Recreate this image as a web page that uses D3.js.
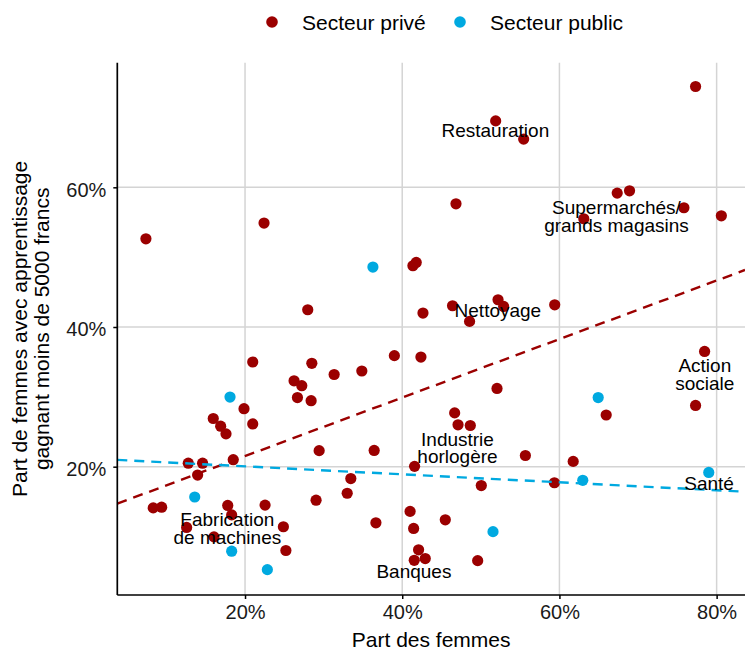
<!DOCTYPE html>
<html>
<head>
<meta charset="utf-8">
<script src="https://cdn.jsdelivr.net/npm/d3@7"></script>
<style>
  html, body { margin: 0; padding: 0; background: #fff; }
  svg { display: block; font-family: "Liberation Sans", Arial, sans-serif; }
</style>
</head>
<body>
<svg id="chart" width="745" height="652"></svg>
<script>
// Share of women in each branch (x, %) and share of apprenticeship-trained
// women earning less than 5000 francs (y, %), private sector
const priveX = [7.39, 22.42, 27.98, 41.36, 41.78, 42.64, 77.32, 51.89, 55.45, 46.84,
  67.35, 68.92, 75.84, 80.6, 63.1, 46.4, 52.19, 52.9, 48.57, 59.4,
  20.98, 28.5, 31.34, 34.86, 39.0, 42.38, 26.24, 27.22, 26.67, 28.41,
  19.87, 20.98, 15.96, 16.9, 17.58, 29.43, 36.43, 41.57, 12.78, 14.6,
  18.5, 13.97, 8.32, 9.39, 17.8, 18.3, 22.55, 33.46, 33.0, 29.04,
  41.0, 12.57, 24.88, 36.65, 41.45, 16.05, 25.2, 42.08, 41.53, 42.93,
  52.06, 46.67, 47.1, 48.66, 55.67, 61.75, 50.06, 59.36, 65.95, 78.47,
  77.32, 45.48, 49.6];
const priveY = [52.63, 54.88, 42.47, 48.77, 49.24, 42.0, 74.43, 69.51, 66.9, 57.64,
  59.17, 59.5, 57.07, 55.92, 55.5, 43.04, 43.9, 42.94, 40.8, 43.18,
  34.99, 34.8, 33.2, 33.7, 35.9, 35.7, 32.3, 31.6, 29.9, 29.45,
  28.3, 26.12, 26.9, 25.8, 24.7, 22.3, 22.33, 20.05, 20.5, 20.5,
  21.0, 18.8, 14.1, 14.2, 14.45, 13.1, 14.5, 18.3, 16.2, 15.2,
  13.6, 11.3, 11.4, 11.97, 11.16, 9.95, 8.0, 8.1, 6.6, 6.85,
  31.2, 27.7, 26.0, 25.9, 21.6, 20.76, 17.3, 17.7, 27.4, 36.5,
  28.77, 12.4, 6.55];

// Same measures, public sector
const publicX = [18.09, 13.6, 18.3, 22.84, 36.27, 51.55, 62.97, 64.93, 79.0];
const publicY = [29.97, 15.66, 7.9, 5.26, 48.58, 10.7, 18.05, 29.9, 19.18];

// Fitted trend lines: intercept and slope per sector
const fitPrive = [13.14, 0.4189];
const fitPublic = [21.19, -0.0571];

// Named branches
const labelTexts = [["Restauration"], ["Supermarchés/", "grands magasins"], ["Nettoyage"],
  ["Industrie", "horlogère"], ["Action", "sociale"], ["Santé"],
  ["Fabrication", "de machines"], ["Banques"]];
const labelX = [51.85, 67.26, 52.17, 47.03, 78.5, 79.04, 17.75, 41.49];
const labelY = [68.13, 55.82, 42.33, 22.68, 33.2, 17.67, 11.16, 4.98];

const xTicks = [20, 40, 60, 80];
const yTicks = [20, 40, 60];
const xDomain = [3.75, 83.61];
const yDomain = [1.63, 77.84];

const seriesNames = ["Secteur privé", "Secteur public"];
const colors = ["#9b0000", "#00a9e0"];

// ---- layout ----
const svg = d3.select("#chart");
const panel = { left: 117.3, right: 745, top: 62.7, bottom: 595 };

const x = d3.scaleLinear().domain(xDomain).range([panel.left, panel.right]);
const y = d3.scaleLinear().domain(yDomain).range([panel.bottom, panel.top]);
const pct = d => d + "%";

// grid
const grid = svg.append("g").attr("stroke", "#d4d4d4").attr("stroke-width", 1.5);
grid.selectAll("line.gx").data(xTicks).join("line")
  .attr("x1", d => x(d)).attr("x2", d => x(d))
  .attr("y1", panel.top).attr("y2", panel.bottom);
grid.selectAll("line.gy").data(yTicks).join("line")
  .attr("x1", panel.left).attr("x2", panel.right)
  .attr("y1", d => y(d)).attr("y2", d => y(d));

// points
const pts = svg.append("g");
const prive = priveX.map((v, i) => [v, priveY[i]]);
const publ = publicX.map((v, i) => [v, publicY[i]]);
pts.selectAll("circle.p").data(prive).join("circle")
  .attr("cx", d => x(d[0])).attr("cy", d => y(d[1])).attr("r", 5.6)
  .attr("fill", colors[0]);
pts.selectAll("circle.q").data(publ).join("circle")
  .attr("cx", d => x(d[0])).attr("cy", d => y(d[1])).attr("r", 5.6)
  .attr("fill", colors[1]);

// trend lines across the full panel
const line = d3.line().x(d => x(d[0])).y(d => y(d[1]));
[fitPrive, fitPublic].forEach((f, i) => {
  const seg = xDomain.map(v => [v, f[0] + f[1] * v]);
  svg.append("path").attr("d", line(seg))
    .attr("fill", "none").attr("stroke", colors[i])
    .attr("stroke-width", 2.4).attr("stroke-dasharray", "10,7");
});

// branch labels
const labels = svg.append("g").attr("font-size", 19).attr("fill", "#000")
  .attr("text-anchor", "middle");
labelTexts.forEach((lines, i) => {
  const lh = 17.5;
  const cy = y(labelY[i]) - (lines.length - 1) * lh / 2;
  const t = labels.append("text").attr("x", x(labelX[i]));
  lines.forEach((s, j) => {
    t.append("tspan").attr("x", x(labelX[i])).attr("y", cy + j * lh).attr("dy", "0.35em").text(s);
  });
});

// axes
const xAxis = svg.append("g").attr("transform", `translate(0,${panel.bottom})`)
  .call(d3.axisBottom(x).tickValues(xTicks).tickFormat(pct).tickSize(4).tickPadding(6));
const yAxis = svg.append("g").attr("transform", `translate(${panel.left},0)`)
  .call(d3.axisLeft(y).tickValues(yTicks).tickFormat(pct).tickSize(4).tickPadding(7));
[xAxis, yAxis].forEach(a => {
  a.select(".domain").attr("stroke", "#000").attr("stroke-width", 1.7);
  a.selectAll(".tick line").attr("stroke", "#000").attr("stroke-width", 1.5);
  a.selectAll(".tick text").attr("font-size", 20).attr("fill", "#1a1a1a")
    .attr("font-family", "Liberation Sans, Arial, sans-serif");
});
xAxis.select(".domain").attr("d", `M${panel.left},0H${panel.right}`);
yAxis.select(".domain").attr("d", `M0,${panel.bottom}V${panel.top}`);
yAxis.selectAll(".tick text").attr("dy", "0.45em");

// axis titles
svg.append("text").attr("x", (panel.left + panel.right) / 2).attr("y", 647)
  .attr("text-anchor", "middle").attr("font-size", 21).text("Part des femmes");
const yt = svg.append("text").attr("text-anchor", "middle").attr("font-size", 21)
  .attr("transform", `translate(0,${(panel.top + panel.bottom) / 2}) rotate(-90)`);
yt.append("tspan").attr("x", 0).attr("y", 27).text("Part de femmes avec apprentissage");
yt.append("tspan").attr("x", 0).attr("y", 49).text("gagnant moins de 5000 francs");

// legend
const legend = svg.append("g");
const legendPos = [272, 460];
seriesNames.forEach((name, i) => {
  legend.append("circle").attr("cx", legendPos[i]).attr("cy", 22).attr("r", 5.8).attr("fill", colors[i]);
  legend.append("text").attr("x", legendPos[i] + 30).attr("y", 30)
    .attr("font-size", 21).text(name);
});
</script>
</body>
</html>
